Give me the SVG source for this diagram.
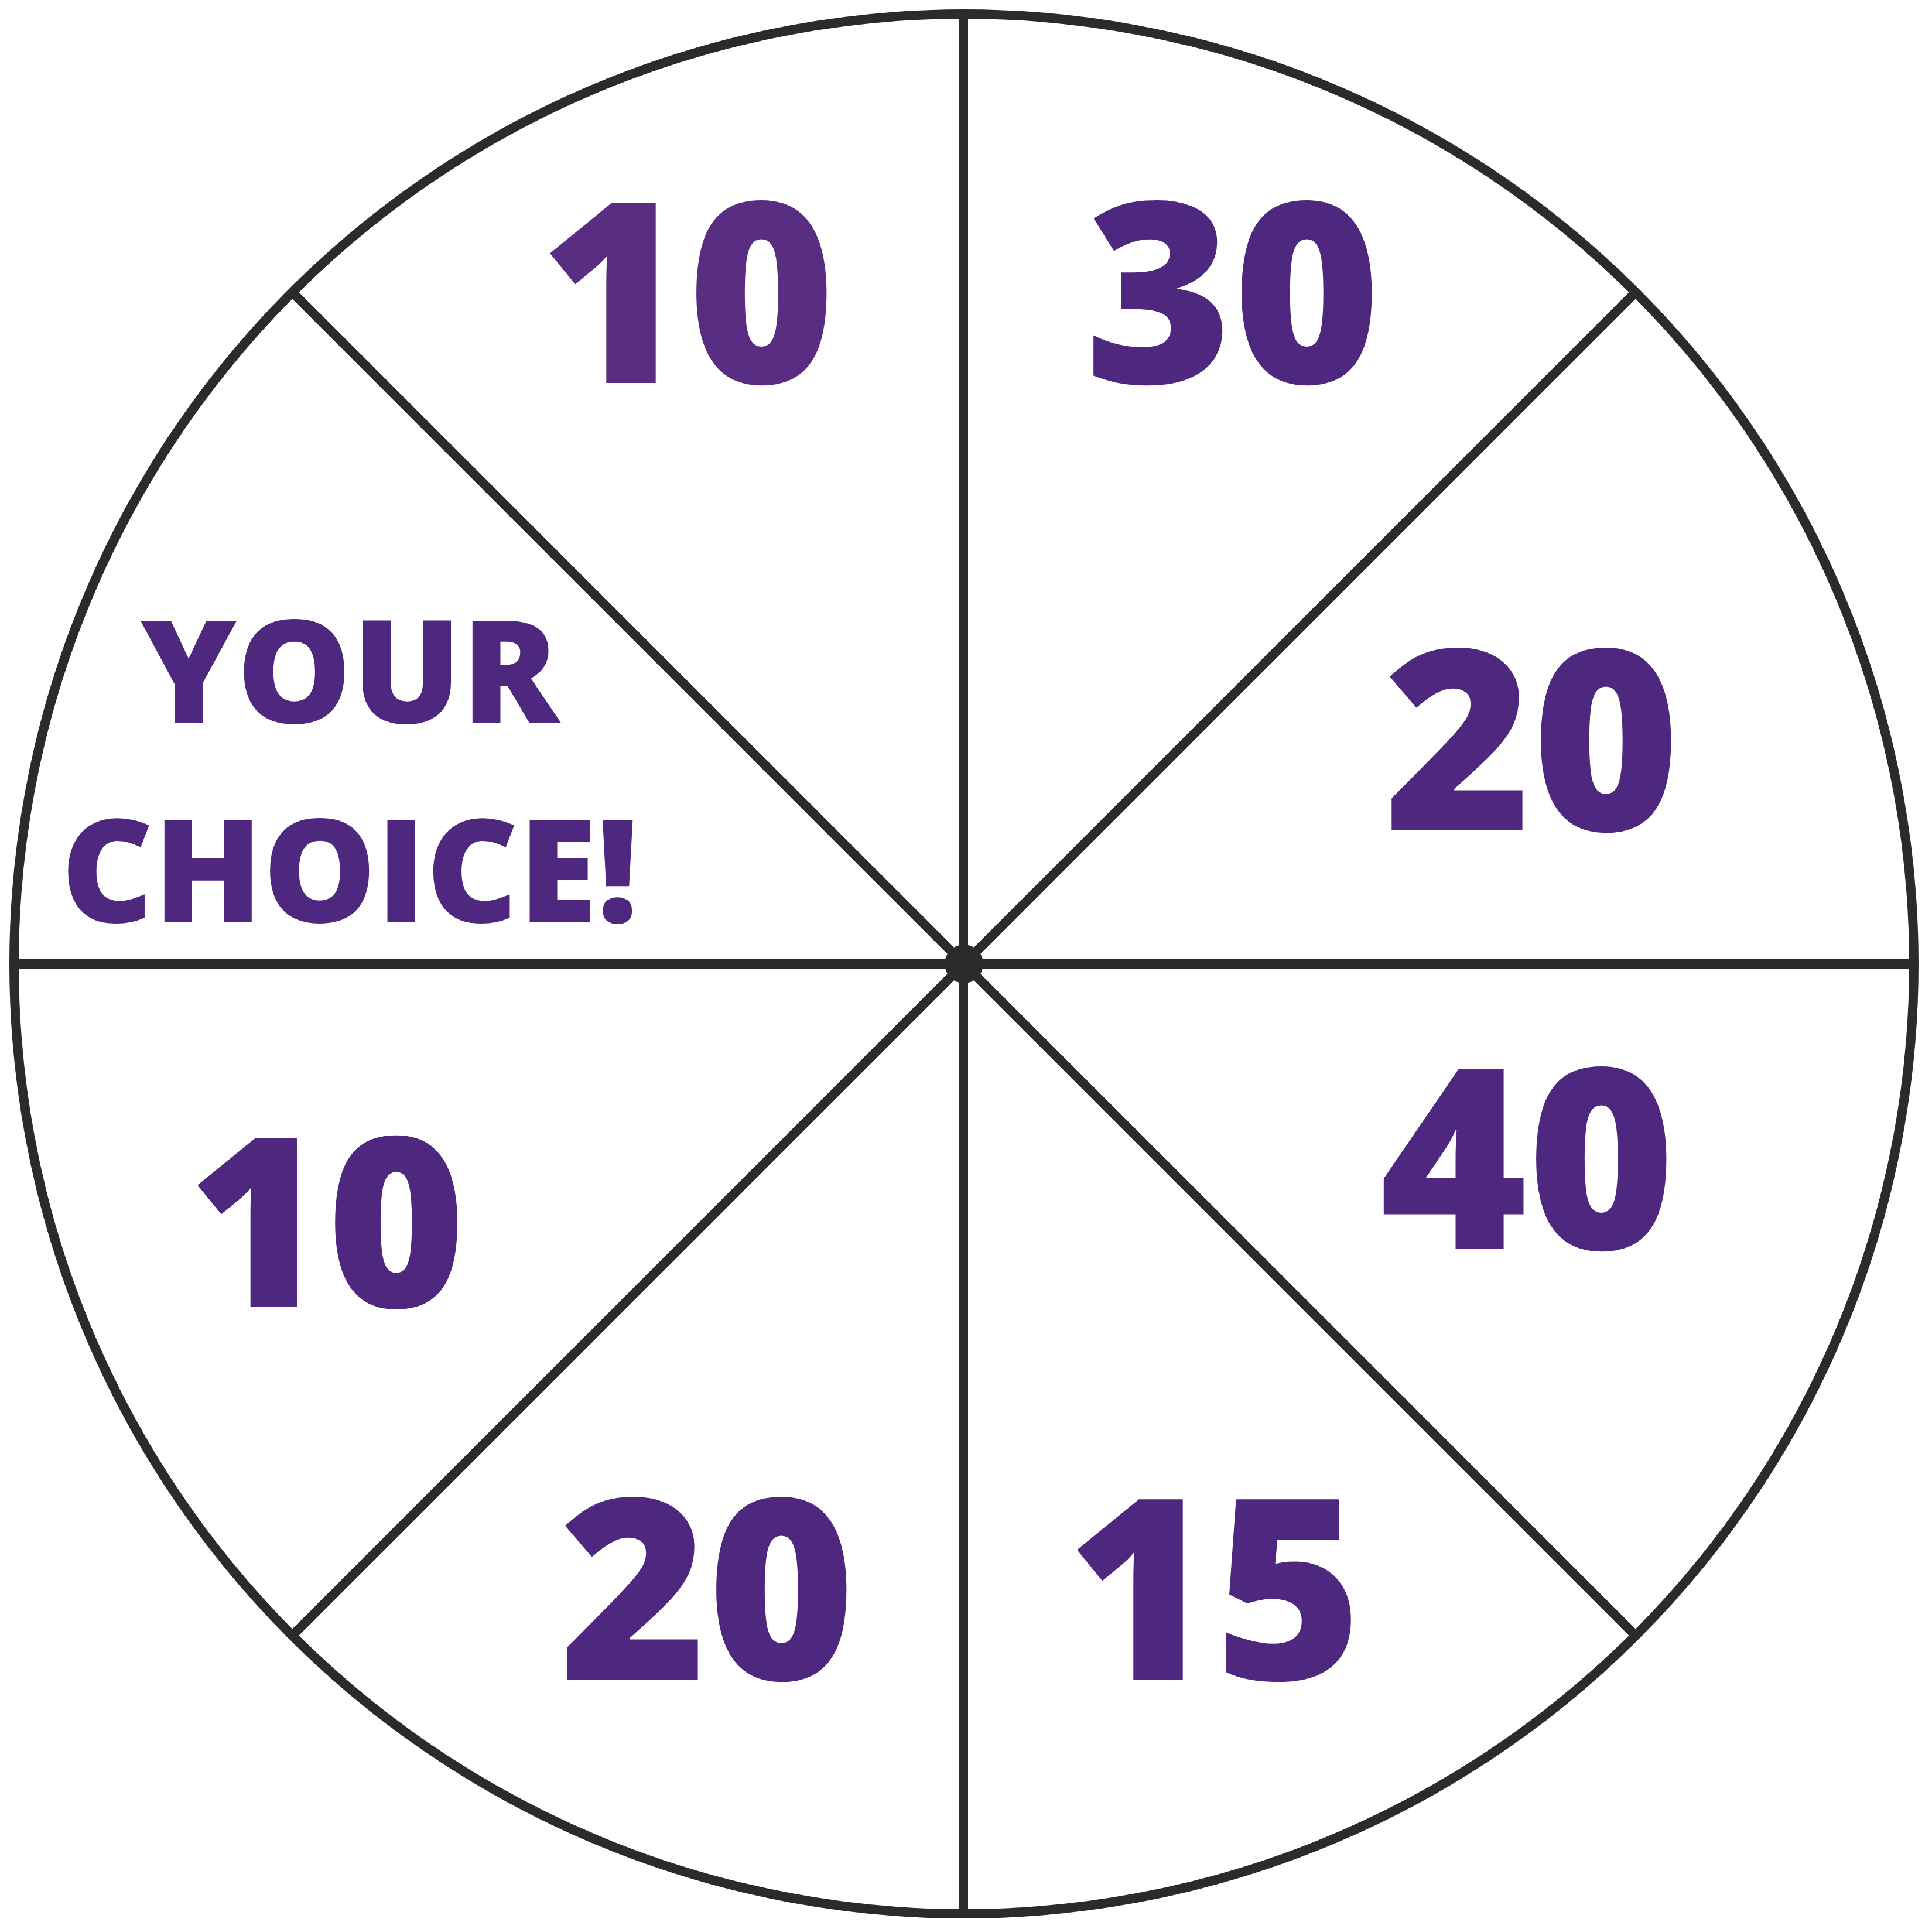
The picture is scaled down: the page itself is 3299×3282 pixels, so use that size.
<svg xmlns="http://www.w3.org/2000/svg" width="3299" height="3282" viewBox="0 0 3299 3282">
<style>
.line{stroke:#2b2b2b;stroke-width:16;fill:none}
.num{font-family:"Open Sans","Liberation Sans",sans-serif;font-weight:800;fill:#4e287e;font-size:431px;text-anchor:middle}
.word{font-family:"Open Sans","Liberation Sans",sans-serif;font-weight:800;fill:#4e287e;font-size:244px}
</style>
<rect width="3299" height="3282" fill="#ffffff"/>
<g id="connectors">
<circle class="line" cx="1646" cy="1646" r="1622"/>
<line class="line" x1="24" y1="1646" x2="3268" y2="1646"/>
<line class="line" x1="1645" y1="23" x2="1645" y2="3268"/>
<line class="line" x1="499" y1="499" x2="2793" y2="2793"/>
<line class="line" x1="2793" y1="499" x2="499" y2="2793"/>
<circle cx="1646" cy="1646" r="33" fill="#2b2b2b"/>
</g>
<g id="seg-top-left"><text class="num" x="1174" y="654" style="fill:#592d82">10</text></g>
<g id="seg-top-right"><text class="num" x="2105" y="654">30</text></g>
<g id="seg-right-upper"><text class="num" x="2616" y="1418">20</text></g>
<g id="seg-right-lower"><text class="num" x="2608" y="2133">40</text></g>
<g id="seg-bottom-right"><text class="num" x="2074" y="2868">15</text></g>
<g id="seg-bottom-left"><text class="num" x="1208" y="2868">20</text></g>
<g id="seg-left-lower"><text class="num" x="558" y="2232" style="font-size:405px">10</text></g>
<g id="seg-left-upper">
<text class="word" x="240" y="1235" textLength="715" lengthAdjust="spacingAndGlyphs">YOUR</text>
<text class="word" x="104" y="1575" textLength="986" lengthAdjust="spacingAndGlyphs">CHOICE!</text>
</g>
</svg>
